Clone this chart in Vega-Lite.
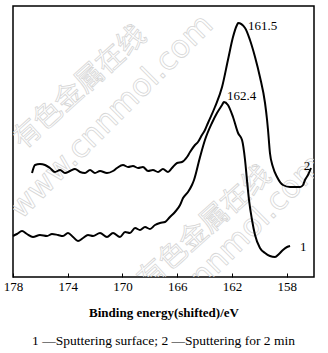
{
  "$schema": "https://vega.github.io/schema/vega-lite/v6.json",
  "width": 301,
  "height": 271,
  "autosize": {"type": "none"},
  "padding": {"left": 13, "top": 6, "right": 14, "bottom": 76},
  "background": "white",
  "config": {
    "view": {"stroke": "black", "strokeWidth": 1.5},
    "font": "Liberation Serif"
  },
  "title": {
    "text": "1 —Sputtering surface;  2 —Sputtering for 2 min",
    "orient": "bottom",
    "anchor": "middle",
    "font": "Liberation Serif",
    "fontSize": 13.5,
    "fontWeight": "normal",
    "color": "black",
    "offset": 15
  },
  "datasets": {
    "wmcn": [
      {"e": 173.1, "i": 189, "t": "有色金属在线"},
      {"e": 163.97, "i": 49, "t": "有色金属在线"}
    ],
    "wmurl": [
      {"e": 170.8, "i": 160, "t": "www.cnnmol.com"},
      {"e": 162.72, "i": 20, "t": "www.cnnmol.com"}
    ],
    "curves": [
      {"e": 176.61, "i": 104, "s": "2"},
      {"e": 176.39, "i": 112, "s": "2"},
      {"e": 176.03, "i": 113, "s": "2"},
      {"e": 175.66, "i": 112, "s": "2"},
      {"e": 175.30, "i": 109, "s": "2"},
      {"e": 174.93, "i": 105, "s": "2"},
      {"e": 174.56, "i": 107, "s": "2"},
      {"e": 174.20, "i": 104, "s": "2"},
      {"e": 173.83, "i": 106, "s": "2"},
      {"e": 173.47, "i": 108, "s": "2"},
      {"e": 173.10, "i": 105, "s": "2"},
      {"e": 172.74, "i": 104, "s": "2"},
      {"e": 172.37, "i": 107, "s": "2"},
      {"e": 172.01, "i": 104, "s": "2"},
      {"e": 171.64, "i": 106, "s": "2"},
      {"e": 171.13, "i": 104, "s": "2"},
      {"e": 170.69, "i": 106, "s": "2"},
      {"e": 170.40, "i": 109, "s": "2"},
      {"e": 169.96, "i": 112, "s": "2"},
      {"e": 169.59, "i": 110, "s": "2"},
      {"e": 169.23, "i": 111, "s": "2"},
      {"e": 168.86, "i": 109, "s": "2"},
      {"e": 168.50, "i": 110, "s": "2"},
      {"e": 168.13, "i": 106, "s": "2"},
      {"e": 167.77, "i": 107, "s": "2"},
      {"e": 167.40, "i": 105, "s": "2"},
      {"e": 167.04, "i": 108, "s": "2"},
      {"e": 166.67, "i": 105, "s": "2"},
      {"e": 166.38, "i": 109, "s": "2"},
      {"e": 166.01, "i": 114, "s": "2"},
      {"e": 165.65, "i": 115, "s": "2"},
      {"e": 165.28, "i": 120, "s": "2"},
      {"e": 165.06, "i": 125, "s": "2"},
      {"e": 164.70, "i": 132, "s": "2"},
      {"e": 164.48, "i": 135, "s": "2"},
      {"e": 164.19, "i": 142, "s": "2"},
      {"e": 163.97, "i": 147, "s": "2"},
      {"e": 163.75, "i": 154, "s": "2"},
      {"e": 163.24, "i": 170, "s": "2"},
      {"e": 162.72, "i": 190, "s": "2"},
      {"e": 162.29, "i": 217, "s": "2"},
      {"e": 161.92, "i": 240, "s": "2"},
      {"e": 161.63, "i": 252, "s": "2"},
      {"e": 161.55, "i": 254, "s": "2"},
      {"e": 161.04, "i": 249, "s": "2"},
      {"e": 160.68, "i": 237, "s": "2"},
      {"e": 160.31, "i": 220, "s": "2"},
      {"e": 159.95, "i": 200, "s": "2"},
      {"e": 159.58, "i": 174, "s": "2"},
      {"e": 159.43, "i": 157, "s": "2"},
      {"e": 159.36, "i": 147, "s": "2"},
      {"e": 159.22, "i": 124, "s": "2"},
      {"e": 159.00, "i": 110, "s": "2"},
      {"e": 158.70, "i": 100, "s": "2"},
      {"e": 158.27, "i": 92, "s": "2"},
      {"e": 157.75, "i": 90, "s": "2"},
      {"e": 157.02, "i": 90, "s": "2"},
      {"e": 156.80, "i": 92, "s": "2"},
      {"e": 156.66, "i": 97, "s": "2"},
      {"e": 156.44, "i": 102, "s": "2"},
      {"e": 156.22, "i": 109, "s": "2"},
      {"e": 178.00, "i": 41, "s": "1"},
      {"e": 177.71, "i": 43, "s": "1"},
      {"e": 177.34, "i": 46, "s": "1"},
      {"e": 176.98, "i": 43, "s": "1"},
      {"e": 176.54, "i": 40, "s": "1"},
      {"e": 176.03, "i": 42, "s": "1"},
      {"e": 175.51, "i": 41, "s": "1"},
      {"e": 175.15, "i": 43, "s": "1"},
      {"e": 174.71, "i": 42, "s": "1"},
      {"e": 174.35, "i": 41, "s": "1"},
      {"e": 173.98, "i": 44, "s": "1"},
      {"e": 173.61, "i": 40, "s": "1"},
      {"e": 173.25, "i": 36, "s": "1"},
      {"e": 172.88, "i": 39, "s": "1"},
      {"e": 172.52, "i": 42, "s": "1"},
      {"e": 172.15, "i": 41, "s": "1"},
      {"e": 171.64, "i": 44, "s": "1"},
      {"e": 171.13, "i": 40, "s": "1"},
      {"e": 170.69, "i": 44, "s": "1"},
      {"e": 170.18, "i": 40, "s": "1"},
      {"e": 169.81, "i": 45, "s": "1"},
      {"e": 169.45, "i": 44, "s": "1"},
      {"e": 169.08, "i": 49, "s": "1"},
      {"e": 168.72, "i": 47, "s": "1"},
      {"e": 168.35, "i": 50, "s": "1"},
      {"e": 167.99, "i": 48, "s": "1"},
      {"e": 167.62, "i": 52, "s": "1"},
      {"e": 167.26, "i": 54, "s": "1"},
      {"e": 166.89, "i": 55, "s": "1"},
      {"e": 166.53, "i": 60, "s": "1"},
      {"e": 166.16, "i": 65, "s": "1"},
      {"e": 165.79, "i": 72, "s": "1"},
      {"e": 165.57, "i": 79, "s": "1"},
      {"e": 165.21, "i": 85, "s": "1"},
      {"e": 164.92, "i": 92, "s": "1"},
      {"e": 164.77, "i": 97, "s": "1"},
      {"e": 164.33, "i": 120, "s": "1"},
      {"e": 163.97, "i": 137, "s": "1"},
      {"e": 163.46, "i": 154, "s": "1"},
      {"e": 163.09, "i": 164, "s": "1"},
      {"e": 162.72, "i": 172, "s": "1"},
      {"e": 162.58, "i": 175, "s": "1"},
      {"e": 162.29, "i": 172, "s": "1"},
      {"e": 161.92, "i": 160, "s": "1"},
      {"e": 161.55, "i": 144, "s": "1"},
      {"e": 161.26, "i": 137, "s": "1"},
      {"e": 161.04, "i": 117, "s": "1"},
      {"e": 160.90, "i": 97, "s": "1"},
      {"e": 160.75, "i": 77, "s": "1"},
      {"e": 160.53, "i": 57, "s": "1"},
      {"e": 160.31, "i": 42, "s": "1"},
      {"e": 159.95, "i": 29, "s": "1"},
      {"e": 159.58, "i": 24, "s": "1"},
      {"e": 159.22, "i": 21, "s": "1"},
      {"e": 158.85, "i": 20, "s": "1"},
      {"e": 158.56, "i": 23, "s": "1"},
      {"e": 158.27, "i": 27, "s": "1"},
      {"e": 157.97, "i": 30, "s": "1"},
      {"e": 157.75, "i": 31, "s": "1"}
    ],
    "labels": [
      {"e": 160.82, "i": 251, "t": "161.5"},
      {"e": 162.36, "i": 181, "t": "162.4"},
      {"e": 156.75, "i": 111, "t": "2"},
      {"e": 157.02, "i": 30, "t": "1"}
    ]
  },
  "encoding": {
    "x": {
      "field": "e",
      "type": "quantitative",
      "scale": {"domain": [178, 156], "nice": false, "zero": false},
      "axis": {
        "values": [178, 174, 170, 166, 162, 158],
        "format": "d",
        "grid": false,
        "domain": false,
        "tickSize": -4,
        "tickColor": "black",
        "tickWidth": 1,
        "labelFont": "Liberation Serif",
        "labelFontSize": 13,
        "labelColor": "black",
        "labelPadding": 7,
        "labelFlush": false,
        "title": "Binding energy(shifted)/eV",
        "titleFont": "Liberation Serif",
        "titleFontSize": 13,
        "titleFontWeight": "bold",
        "titleColor": "black",
        "titlePadding": 13
      }
    },
    "y": {
      "field": "i",
      "type": "quantitative",
      "scale": {"domain": [0, 271], "nice": false, "zero": false},
      "axis": null
    }
  },
  "layer": [
    {
      "data": {"name": "wmcn"},
      "mark": {"type": "text", "clip": true, "font": "Noto Sans CJK SC", "fontSize": 28, "angle": -42, "align": "center", "baseline": "middle", "fillOpacity": 0, "stroke": "#d6d6d6", "strokeWidth": 0.8},
      "encoding": {"text": {"field": "t"}}
    },
    {
      "data": {"name": "wmurl"},
      "mark": {"type": "text", "clip": true, "font": "DejaVu Sans", "fontSize": 31, "angle": -45, "align": "center", "baseline": "middle", "fillOpacity": 0, "stroke": "#d6d6d6", "strokeWidth": 0.8},
      "encoding": {"text": {"field": "t"}}
    },
    {
      "data": {"name": "curves"},
      "mark": {"type": "line", "color": "black", "strokeWidth": 2, "interpolate": "monotone"},
      "encoding": {"detail": {"field": "s"}, "order": {"value": 0}}
    },
    {
      "data": {"name": "labels"},
      "mark": {"type": "text", "font": "Liberation Serif", "fontSize": 13, "align": "left", "baseline": "middle", "color": "black"},
      "encoding": {"text": {"field": "t"}}
    }
  ]
}
